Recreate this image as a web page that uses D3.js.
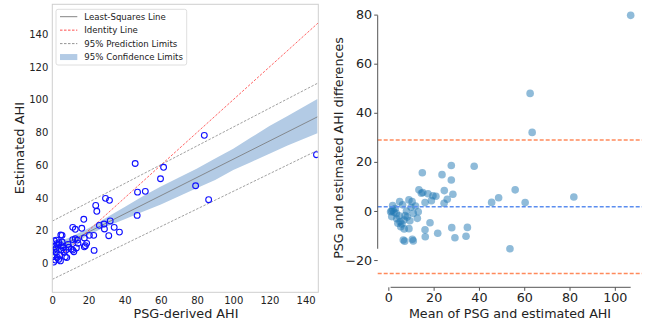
<!DOCTYPE html>
<html>
<head>
<meta charset="utf-8">
<script src="https://cdn.jsdelivr.net/npm/d3@7"></script>
<style>
  body { margin: 0; background: #fff; }
  svg { display: block; font-family: "DejaVu Sans", sans-serif; }
</style>
</head>
<body>
<div id="chart"></div>
<script>
// left panel: PSG-derived vs estimated AHI
const psgAHI = [146, 84, 86.4, 79.2, 61.5, 59.8, 51.4, 47.1, 45.8, 46.9, 29.4, 31.6, 24, 24.6, 17.4, 37.1, 34.2, 32, 31.2, 28.6,
  28.8, 26, 22.9, 20.5, 23.1, 17.7, 19, 17.7, 11.3, 12.7, 16.3, 13.9, 12.7, 11.3, 13.3, 11.3, 11.9, 7.2, 5.4, 4.7,
  5.4, 1.1, 2.3, 3.7, 5, 5, 8.7, 9.1, 6.5, 7.6, 1.3, 1, 2.2, 0.4, 1.7, 2.8, 4.1, 3.5, 10.5, 14.2,
  18.3, 3.5, 2, 0.8, 4.5, 6, 2.5, 8];
const estAHI = [66.4, 78.2, 38.9, 47.4, 58.7, 51.7, 44, 43.5, 61, 29.3, 39.7, 38.5, 35.4, 31.8, 26.9, 19.1, 22, 25.9, 16.9, 24,
  21, 23.2, 17.1, 17.1, 7.9, 15.5, 12.2, 10.1, 22, 20.8, 21.4, 14.2, 15, 14.5, 9.4, 8.1, 7.1, 4, 17.1, 17.3,
  13, 13.8, 14.2, 12.6, 10.8, 8.1, 11.6, 9.8, 6.7, 8.1, 10.2, 8.1, 6.5, 4, 2, 3.6, 5.1, 2.4, 8.7, 12.2,
  10.8, 11.6, 9, 0.8, 1.5, 9.5, 12, 3.5];

// fitted lines, as [x, y] end points
const lsLine = [[0, 8], [146.5, 89.5]];
const identityLine = [[0, 0], [147, 147]];
const predUpper = [[0, 25.8], [146.5, 110]];
const predLower = [[0, -9.8], [146.5, 69]];
// confidence band: x, lower, upper
const bandX = [0, 10, 20, 30, 40, 50, 60, 70, 80, 90, 100, 110, 120, 130, 146.5];
const bandLo = [4, 10, 17.5, 22.5, 27, 31.5, 36, 41, 46, 51, 57, 62, 67, 72, 79.5];
const bandHi = [12, 16, 21.5, 28, 34.5, 41, 47, 52.5, 58, 64, 70, 77, 84, 90, 100.4];

const leftTicks = [0, 20, 40, 60, 80, 100, 120, 140];
const legendLabels = ["Least-Squares Line", "Identity Line", "95% Prediction Limits", "95% Confidence Limits"];

// right panel: Bland-Altman
const baMean = [107, 62.6, 63.5, 27.8, 37.9, 15, 23.7, 27.8, 15.2, 13.5, 14.6, 24.7, 28.5, 19.7, 56, 48.7, 45.6, 60.4, 81.9, 53.7,
  28, 34.9, 29.4, 34.3, 21.8, 18.4, 16.2, 16.3, 9.1, 6.6, 10.6, 26, 24.6, 19, 16.2, 13.2, 12.8, 11, 9.1, 10.5,
  5, 1.9, 1.4, 1.5, 3.7, 5.2, 6.9, 7.4, 8, 5.5, 6, 7, 7.2, 11, 2.5, 3, 4.8, 2, 8.3, 10,
  12, 6.3, 4.2, 9.5, 17.5, 21, 1, 3.5];
const baDiff = [79.7, 47.9, 32, 18.5, 18.2, 15.6, 14.8, 12.6, 7.5, 8.6, 7.2, 8.3, 6.8, 6.2, 8.6, 5.4, 3.5, 3.4, 5.7, -15.4,
  -6.8, -6.7, -10.9, -10.3, -9.1, -4.8, -7.7, -10.5, -7.2, -11.8, -11.5, 4.8, 3.1, 4.2, 3.4, -0.3, -3, -1, 4.5, 3.8,
  3.8, 2.2, 0, -2.3, -3.2, -4.4, -3.7, -1.9, 0, -6.4, -5.3, -7.3, -12.3, -12.2, -0.5, 1, -2, 0.5, -2.5, 1.5,
  2, 2.5, -5, -4, 7, 6, -0.3, -1];
const meanDiff = 1.75;
const limitsOfAgreement = [28.9, -25.5];
const baXTicks = [0, 20, 40, 60, 80, 100];
const baYTicks = [-20, 0, 20, 40, 60, 80];

const width = 651, height = 324;
const svg = d3.select("#chart").append("svg")
  .attr("width", width).attr("height", height)
  .attr("viewBox", [0, 0, width, height]);

// ---------- left panel ----------
const x1 = d3.scaleLinear().domain([0, 147]).range([52.3, 318.3]);
const y1 = d3.scaleLinear().domain([-17.7, 158.3]).range([292.3, 4.3]);

const left = svg.append("g");
left.append("clipPath").attr("id", "clipL").append("rect")
  .attr("x", x1.range()[0]).attr("y", y1.range()[1])
  .attr("width", x1.range()[1] - x1.range()[0]).attr("height", y1.range()[0] - y1.range()[1]);

const plotL = left.append("g").attr("clip-path", "url(#clipL)");
const line1 = d3.line().x(d => x1(d[0])).y(d => y1(d[1]));

const band = d3.area()
  .x((d, i) => x1(d))
  .y0((d, i) => y1(bandLo[i]))
  .y1((d, i) => y1(bandHi[i]));
plotL.append("path").datum(bandX).attr("d", band).attr("fill", "#b3cbe5");

plotL.append("path").datum(lsLine).attr("d", line1)
  .attr("stroke", "#777").attr("stroke-width", 0.8).attr("fill", "none");
plotL.append("path").datum(identityLine).attr("d", line1)
  .attr("stroke", "#ff3b3b").attr("stroke-width", 0.8).attr("stroke-dasharray", "2.5,1.5").attr("fill", "none");
[predUpper, predLower].forEach(p => {
  plotL.append("path").datum(p).attr("d", line1)
    .attr("stroke", "#888").attr("stroke-width", 0.8).attr("stroke-dasharray", "2.5,1.5").attr("fill", "none");
});

plotL.selectAll("circle").data(psgAHI).enter().append("circle")
  .attr("cx", d => x1(d))
  .attr("cy", (d, i) => y1(estAHI[i]))
  .attr("r", 2.9)
  .attr("fill", "none")
  .attr("stroke", "#1010ff")
  .attr("stroke-width", 1.1);

// frame
left.append("rect")
  .attr("x", x1.range()[0]).attr("y", y1.range()[1])
  .attr("width", x1.range()[1] - x1.range()[0]).attr("height", y1.range()[0] - y1.range()[1])
  .attr("fill", "none").attr("stroke", "#cfcfcf").attr("stroke-width", 1);

const axL = left.append("g").attr("transform", `translate(0,${y1.range()[0]})`)
  .call(d3.axisBottom(x1).tickValues(leftTicks).tickSize(0).tickPadding(4.5));
const ayL = left.append("g").attr("transform", `translate(${x1.range()[0]},0)`)
  .call(d3.axisLeft(y1).tickValues(leftTicks).tickSize(0).tickPadding(4));
[axL, ayL].forEach(a => {
  a.select(".domain").remove();
  a.selectAll("text").attr("font-size", 10).attr("fill", "#222").attr("font-family", "DejaVu Sans");
});

left.append("text").attr("x", 186).attr("y", 318).attr("text-anchor", "middle")
  .attr("font-size", 12.8).attr("fill", "#222").text("PSG-derived AHI");
left.append("text").attr("transform", "translate(24,148) rotate(-90)").attr("text-anchor", "middle")
  .attr("font-size", 13).attr("fill", "#222").text("Estimated AHI");

// legend
const lg = left.append("g");
lg.append("rect").attr("x", 56).attr("y", 9.3).attr("width", 130.7).attr("height", 55.7)
  .attr("rx", 2).attr("fill", "#fff").attr("fill-opacity", 0.85).attr("stroke", "#d5d5d5").attr("stroke-width", 0.8);
const lgStyles = [
  {stroke: "#777", dash: null},
  {stroke: "#ff3b3b", dash: "2.5,1.5"},
  {stroke: "#888", dash: "2.5,1.5"},
  {fill: "#b3cbe5"}
];
legendLabels.forEach((t, i) => {
  const cy = 16.7 + i * 13.45;
  const s = lgStyles[i];
  if (s.fill) {
    lg.append("rect").attr("x", 60).attr("y", cy - 3).attr("width", 17.3).attr("height", 6).attr("fill", s.fill);
  } else {
    lg.append("line").attr("x1", 60).attr("x2", 77.3).attr("y1", cy).attr("y2", cy)
      .attr("stroke", s.stroke).attr("stroke-width", 0.9).attr("stroke-dasharray", s.dash);
  }
  lg.append("text").attr("x", 84.3).attr("y", cy).attr("dy", "0.35em")
    .attr("font-size", 8.6).attr("fill", "#222").text(t);
});

// ---------- right panel ----------
const x2 = d3.scaleLinear().domain([-4.7, 112]).range([377.7, 642]);
const y2 = d3.scaleLinear().domain([-31.1, 85.3]).range([287.3, 1.6]);
const right = svg.append("g");

right.selectAll("circle").data(baMean).enter().append("circle")
  .attr("cx", d => x2(d))
  .attr("cy", (d, i) => y2(baDiff[i]))
  .attr("r", 3.8)
  .attr("fill", "#1f77b4")
  .attr("fill-opacity", 0.5);

right.append("line").attr("x1", x2.range()[0]).attr("x2", x2.range()[1])
  .attr("y1", y2(meanDiff)).attr("y2", y2(meanDiff))
  .attr("stroke", "#5b8def").attr("stroke-width", 1.5).attr("stroke-dasharray", "4,2");
limitsOfAgreement.forEach(v => {
  right.append("line").attr("x1", x2.range()[0]).attr("x2", x2.range()[1])
    .attr("y1", y2(v)).attr("y2", y2(v))
    .attr("stroke", "#ff8a5c").attr("stroke-width", 1.5).attr("stroke-dasharray", "4,2");
});

const axR = right.append("g").attr("transform", `translate(0,${y2.range()[0]})`)
  .call(d3.axisBottom(x2).tickValues(baXTicks).tickSize(3.5).tickPadding(2).tickFormat(d3.format("d")));
const ayR = right.append("g").attr("transform", `translate(${x2.range()[0]},0)`)
  .call(d3.axisLeft(y2).tickValues(baYTicks).tickSize(3.5).tickPadding(2).tickFormat(d => d < 0 ? "\u2212" + Math.abs(d) : d));
// spines trimmed to data extent
const mx = d3.extent(baMean), dy = d3.extent(baDiff);
axR.select(".domain").attr("d", `M${x2(mx[0])},0H${x2(mx[1])}`);
ayR.select(".domain").attr("d", `M0,${y2(dy[0])}V${y2(dy[1])}`);
[axR, ayR].forEach(a => {
  a.select(".domain").attr("stroke", "#555").attr("stroke-width", 1);
  a.selectAll(".tick line").attr("stroke", "#555");
  a.selectAll("text").attr("font-size", 12.7).attr("fill", "#222").attr("font-family", "DejaVu Sans");
});

right.append("text").attr("x", 510).attr("y", 317.5).attr("text-anchor", "middle")
  .attr("font-size", 12.7).attr("fill", "#222").text("Mean of PSG and estimated AHI");
right.append("text").attr("transform", "translate(343,148) rotate(-90)").attr("text-anchor", "middle")
  .attr("font-size", 12.7).attr("fill", "#222").text("PSG and estimated AHI differences");
</script>
</body>
</html>
